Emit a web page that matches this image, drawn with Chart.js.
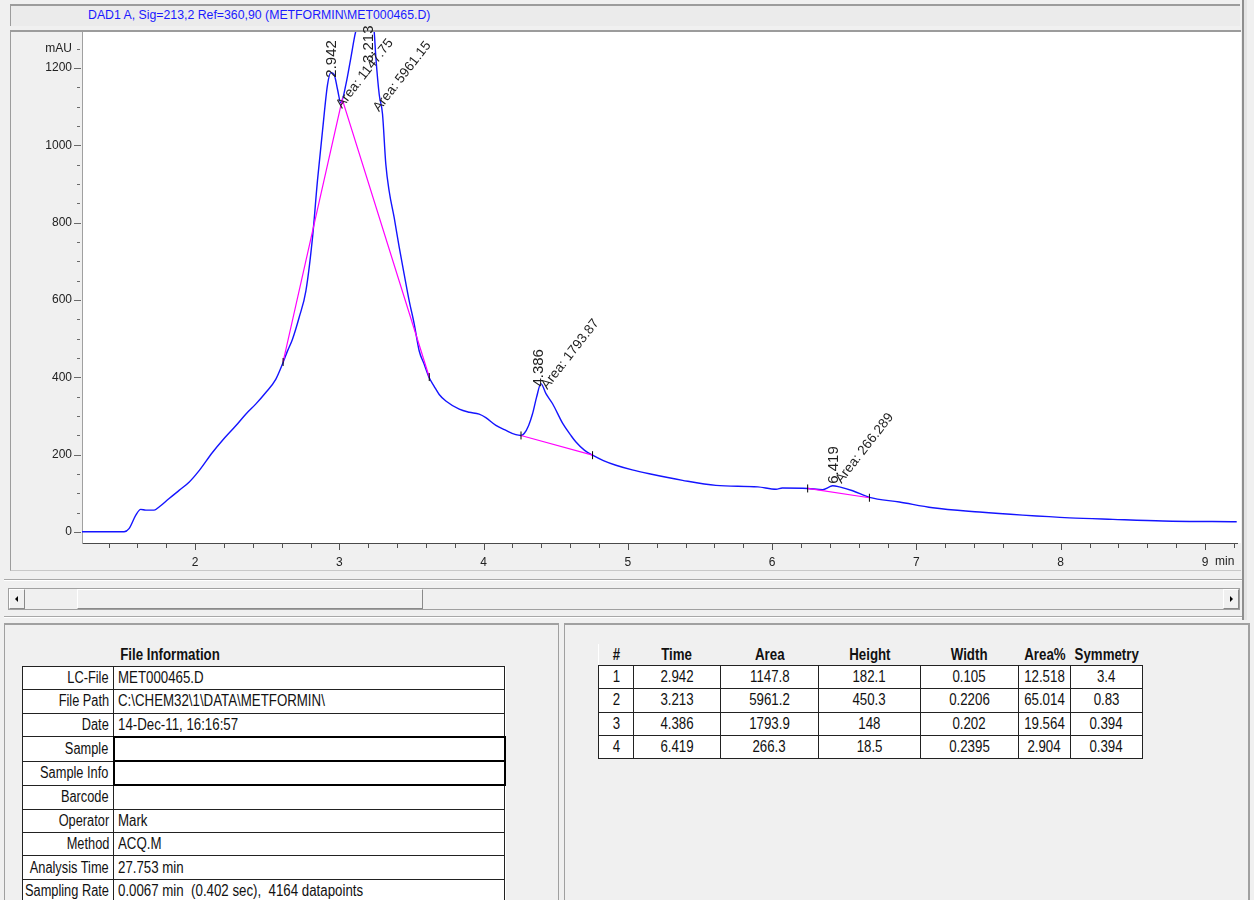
<!DOCTYPE html>
<html>
<head>
<meta charset="utf-8">
<script src="https://cdn.jsdelivr.net/npm/chart.js@4.4.0/dist/chart.umd.min.js"></script>
<style>
html,body{margin:0;padding:0;}
body{width:1254px;height:900px;background:#f0f0f0;position:relative;overflow:hidden;font-family:'Liberation Sans',Arial,sans-serif;}
.abs{position:absolute;box-sizing:border-box;}
#hdr{left:10px;top:4px;width:1230px;height:22px;background:#ebebeb;border-top:2px solid #9c9c9c;border-left:1px solid #9c9c9c;}
#hdrText{left:88px;top:8px;font-size:12.3px;color:#1a1aff;line-height:15px;white-space:nowrap;}
#panel{left:10px;top:30px;width:1231px;height:541px;border-top:2px solid #9c9c9c;border-left:1px solid #9c9c9c;border-bottom:1px solid #c8c8c8;}
#vframe{left:1242px;top:0;width:2px;height:620px;background:#8e8e8e;}
#vframe2{left:1244px;top:0;width:3px;height:620px;background:#e4e4e4;}
.hline{left:4px;width:1238px;height:2px;background:#a8a8a8;border-bottom:1px solid #fff;}
#sb{left:8px;top:588px;width:1232px;height:22px;border:1px solid #a0a0a0;background:#f0f0f0;}
.btn{top:589px;width:16px;height:20px;background:#f0f0f0;border-top:1px solid #fff;border-left:1px solid #fff;border-right:1px solid #8a8a8a;border-bottom:1px solid #8a8a8a;}
#thumb{left:77px;top:589px;width:346px;height:20px;background:#f0f0f0;border-top:1px solid #fff;border-left:1px solid #fff;border-right:1px solid #8a8a8a;border-bottom:1px solid #8a8a8a;}
.arrowL{width:0;height:0;border-top:3px solid transparent;border-bottom:3px solid transparent;border-right:3px solid #000;}
.arrowR{width:0;height:0;border-top:3px solid transparent;border-bottom:3px solid transparent;border-left:3px solid #000;}
#bpl{left:4px;top:623px;width:555px;height:280px;border-top:2px solid #a0a0a0;border-left:1px solid #a0a0a0;border-right:1px solid #a0a0a0;}
#bpr{left:564px;top:623px;width:686px;height:280px;border-top:2px solid #a0a0a0;border-left:1px solid #a0a0a0;border-right:2px solid #a0a0a0;}
.tbl{position:absolute;border-collapse:collapse;font-size:16px;color:#111;table-layout:fixed;background:#fff;}
.tbl td{border:1px solid #222;height:22.3px;padding:0;line-height:16px;white-space:nowrap;overflow:visible;}
.fx{display:flex;align-items:center;white-space:nowrap;}
.sq{display:inline-block;transform:scaleX(0.83);flex:none;}
#fi td.lab{padding-right:4px;}
#fi td.lab .fx{justify-content:flex-end;}
#fi td.lab .sq{transform-origin:right center;transform:scaleX(0.8);}
#fi td.val{padding-left:4px;}
#fi td.val .fx{justify-content:flex-start;}
#fi td.val .sq{transform-origin:left center;}
#fi td.thick{border:2px solid #000;}
#pt td .fx{justify-content:center;}
#pt td .sq{transform-origin:center center;}
#pt tr.head td{border:none;font-weight:bold;background:#f0f0f0;height:21px;}
#fiTitle{left:60px;top:646px;width:220px;text-align:center;font-weight:bold;font-size:16px;color:#111;}
#fiTitle .sq{transform-origin:center center;}
</style>
</head>
<body>
<div id="hdr" class="abs"></div>
<div id="hdrText" class="abs">DAD1 A, Sig=213,2 Ref=360,90 (METFORMIN\MET000465.D)</div>
<div id="panel" class="abs"></div>
<canvas id="c" width="1254" height="600" style="position:absolute;left:0;top:0;"></canvas>
<div id="vframe" class="abs"></div>
<div id="vframe2" class="abs"></div>
<div class="abs hline" style="top:579px;"></div>
<div id="sb" class="abs"></div>
<div class="abs btn" style="left:9px;"><div class="abs arrowL" style="left:5px;top:6px;"></div></div>
<div id="thumb" class="abs"></div>
<div class="abs btn" style="left:1223px;"><div class="abs arrowR" style="left:6px;top:6px;"></div></div>
<div class="abs hline" style="top:616px;"></div>
<div id="bpl" class="abs"></div>
<div id="bpr" class="abs"></div>
<div id="fiTitle" class="abs"><span class="sq">File Information</span></div>
<table id="fi" class="tbl" style="left:22px;top:666px;width:482px;"></table>
<table id="pt" class="tbl" style="left:598px;top:644px;width:544px;"></table>

<script>
// ---------- Chromatogram data ----------
const timeMin = [1.216,1.508,1.542,1.589,1.623,1.658,1.716,1.750,1.820,1.889,1.958,2.028,2.120,2.189,2.282,2.351,2.420,2.490,2.559,2.605,2.640,2.675,2.721,2.768,2.814,2.848,2.883,2.918,2.941,2.964,2.987,3.010,3.045,3.080,3.114,3.160,3.213,3.241,3.253,3.276,3.299,3.322,3.345,3.380,3.415,3.449,3.484,3.519,3.553,3.588,3.623,3.657,3.692,3.738,3.831,3.900,3.969,4.015,4.085,4.155,4.223,4.259,4.281,4.312,4.339,4.367,4.397,4.432,4.478,4.548,4.605,4.640,4.698,4.755,4.830,4.917,5.030,5.148,5.379,5.610,5.900,6.027,6.070,6.246,6.350,6.397,6.419,6.466,6.558,6.674,6.882,7.113,7.437,7.737,8.061,8.362,8.709,9.220];
const absorbance = [1,1,9,44,59,57,57,65,87,108,129,159,206,237,275,305,331,361,395,434,468,499,555,624,762,908,1037,1157,1188,1183,1145,1110,1157,1227,1295,1325,1342,1295,1227,1132,1081,951,882,813,736,667,598,538,469,434,399,377,356,339,318,310,305,296,276,263,252,250,255,276,306,349,384,358,332,281,250,233,212,199,185,173,161,151,134,121,117,111,114,113,110,117,120,117,107,90,78,63,52,44,37,33,29,27];

// integration baselines (null = break between peaks)
const baselineTime  = [2.610, 3.020, 3.623, 3.623, 4.259, 4.755, 4.755, 6.246, 6.674];
const baselineValue = [440,   1119,  401,   null,  250,   199,   null,  113,   89];

// peaks
const peakNum     = [1, 2, 3, 4];
const peakTimes   = [2.942, 3.213, 4.386, 6.419];
const peakAreaLabels = ['Area: 1147.75', 'Area: 5961.15', 'Area: 1793.87', 'Area: 266.289'];
const peakArea    = ['1147.8', '5961.2', '1793.9', '266.3'];
const peakHeight  = ['182.1', '450.3', '148', '18.5'];
const peakWidth   = ['0.105', '0.2206', '0.202', '0.2395'];
const peakAreaPct = ['12.518', '65.014', '19.564', '2.904'];
const peakSymmetry = ['3.4', '0.83', '0.394', '0.394'];
const peakTableHeaders = ['#', 'Time', 'Area', 'Height', 'Width', 'Area%', 'Symmetry'];

// axis ticks
const xMajorTicks = [2, 3, 4, 5, 6, 7, 8, 9];
const yTickValues = [0,50,100,150,200,250,300,350,400,450,500,550,600,650,700,750,800,850,900,950,1000,1050,1100,1150,1200,1250];
const yMajorTicks = [0, 200, 400, 600, 800, 1000, 1200];

// file information
const fileInfoLabels = ['LC-File','File Path','Date','Sample','Sample Info','Barcode','Operator','Method','Analysis Time','Sampling Rate'];
const fileInfoValues = ['MET000465.D','C:\\CHEM32\\1\\DATA\\METFORMIN\\','14-Dec-11, 16:16:57','','','','Mark','ACQ.M','27.753 min','0.0067 min&nbsp; (0.402 sec),&nbsp; 4164 datapoints'];

// ---------- tables ----------
function sq(t) { return '<div class="fx"><span class="sq">' + (t === '' ? '&nbsp;' : t) + '</span></div>'; }
(function(){
  const fi = document.getElementById('fi');
  let h = '<colgroup><col style="width:91px"><col style="width:391px"></colgroup>';
  fileInfoLabels.forEach((l, i) => {
    const thick = (l === 'Sample' || l === 'Sample Info') ? ' thick' : '';
    h += '<tr><td class="lab">' + sq(l) + '</td><td class="val' + thick + '">' + sq(fileInfoValues[i]) + '</td></tr>';
  });
  fi.innerHTML = h;
  const pt = document.getElementById('pt');
  const widths = [35, 87, 98, 102, 98, 52, 72];
  let p = '<colgroup>' + widths.map(w => '<col style="width:' + w + 'px">').join('') + '</colgroup>';
  p += '<tr class="head">' + peakTableHeaders.map(t => '<td>' + sq(t) + '</td>').join('') + '</tr>';
  peakNum.forEach((n, i) => {
    const cells = [n, peakTimes[i].toFixed(3), peakArea[i], peakHeight[i], peakWidth[i], peakAreaPct[i], peakSymmetry[i]];
    p += '<tr>' + cells.map(c => '<td>' + sq(String(c)) + '</td>').join('') + '</tr>';
  });
  pt.innerHTML = p;
})();

// ---------- chart ----------
const traceData = timeMin.map((t, i) => ({x: t, y: absorbance[i]}));
const baseData = baselineTime.map((t, i) => ({x: t, y: baselineValue[i]}));
const markerData = [];
baselineValue.forEach((v, i) => {
  if (v === null) return;
  const prevNull = i === 0 || baselineValue[i-1] === null;
  const nextNull = i === baselineValue.length - 1 || baselineValue[i+1] === null;
  if (prevNull || nextNull) markerData.push({x: baselineTime[i], y: v});
});

function interp(t) {
  for (let i = 1; i < timeMin.length; i++) {
    if (t <= timeMin[i]) {
      const f = (t - timeMin[i-1]) / (timeMin[i] - timeMin[i-1]);
      return absorbance[i-1] + f * (absorbance[i] - absorbance[i-1]);
    }
  }
  return absorbance[absorbance.length - 1];
}

const xTickList = [];
for (let i = 7; i <= 46; i++) xTickList.push(Math.round(i * 2) / 10);

const chromPlugin = {
  id: 'chrom',
  beforeDraw(chart) {
    const {ctx, chartArea: a} = chart;
    ctx.save();
    ctx.fillStyle = '#ffffff';
    ctx.fillRect(a.left, a.top, a.right - a.left + 4, a.bottom - a.top);
    ctx.restore();
  },
  afterDraw(chart, args, opts) {
    const {ctx, chartArea: a, scales: {x, y}} = chart;
    ctx.save();
    ctx.lineWidth = 1;
    ctx.strokeStyle = '#6a6a6a';
    y.ticks.forEach(t => {
      const py = Math.round(y.getPixelForValue(t.value)) + 0.5;
      const major = yMajorTicks.includes(t.value);
      ctx.beginPath();
      ctx.moveTo(major ? a.left - 8 : a.left - 5, py);
      ctx.lineTo(major ? a.left - 1 : a.left - 2, py);
      ctx.stroke();
    });
    ctx.strokeStyle = '#505050';
    x.ticks.forEach(t => {
      const px = Math.round(x.getPixelForValue(t.value)) + 0.5;
      const major = xMajorTicks.includes(t.value);
      ctx.beginPath();
      ctx.moveTo(px, a.bottom);
      ctx.lineTo(px, a.bottom + (major ? 7 : 5));
      ctx.stroke();
    });
    ctx.fillStyle = '#222';
    ctx.font = '12px "Liberation Sans", Arial, sans-serif';
    ctx.textAlign = 'left';
    ctx.textBaseline = 'middle';
    ctx.fillText('min', x.getPixelForValue(9) + 10, a.bottom + 19);

    // peak labels
    ctx.fillStyle = '#1e1e1e';
    peakTimes.forEach((pt, i) => {
      const px = x.getPixelForValue(pt);
      const py = Math.max(a.top, y.getPixelForValue(interp(pt)));
      const o = opts.offsets[i];
      ctx.save();
      ctx.translate(px + o.tx, py + o.ty);
      ctx.rotate(-Math.PI / 2);
      ctx.font = '15px "Liberation Sans", Arial, sans-serif';
      ctx.textAlign = 'left';
      ctx.textBaseline = 'middle';
      ctx.fillText(pt.toFixed(3), 0, 0);
      ctx.restore();
      ctx.save();
      ctx.translate(px + o.ax, py + o.ay);
      ctx.rotate(-52 * Math.PI / 180);
      ctx.font = '13.5px "Liberation Sans", Arial, sans-serif';
      ctx.textAlign = 'left';
      ctx.textBaseline = 'middle';
      ctx.fillText(peakAreaLabels[i], 0, 0);
      ctx.restore();
    });
    ctx.restore();
  }
};

new Chart(document.getElementById('c'), {
  type: 'line',
  data: {
    datasets: [
      {
        type: 'scatter', data: markerData, showLine: false,
        pointStyle: 'line', rotation: 90, radius: 4, borderColor: '#000', borderWidth: 1, backgroundColor: '#000'
      },
      {
        data: baseData, borderColor: '#ff00ff', borderWidth: 1.2, pointRadius: 0, spanGaps: false, tension: 0
      },
      {
        data: traceData, borderColor: '#1414ff', borderWidth: 1.4, pointRadius: 0, cubicInterpolationMode: 'monotone'
      }
    ]
  },
  options: {
    responsive: false,
    animation: false,
    devicePixelRatio: 1,
    layout: {padding: {left: 0, top: 32, right: 17, bottom: 0}},
    plugins: {
      legend: {display: false},
      tooltip: {enabled: false},
      chrom: {
        offsets: [
          {tx: 1, ty: 5, ax: 8, ay: 34},
          {tx: -1, ty: 31, ax: 6, ay: 78},
          {tx: 0, ty: -2, ax: 5, ay: -1},
          {tx: 1, ty: -2, ax: 6, ay: -4}
        ]
      }
    },
    scales: {
      x: {
        type: 'linear', min: 1.216, max: 9.222,
        afterFit(s) { s.height = 57; },
        afterBuildTicks(s) { s.ticks = xTickList.map(v => ({value: v})); },
        grid: {display: false, drawTicks: false},
        border: {display: true, color: '#4a4a4a', width: 1},
        ticks: {
          autoSkip: false, maxRotation: 0, padding: 12, color: '#222',
          font: {family: '"Liberation Sans", Arial, sans-serif', size: 12},
          callback: v => xMajorTicks.includes(v) ? String(v) : ''
        }
      },
      y: {
        min: -28, max: 1293,
        afterFit(s) { s.width = 82; },
        afterBuildTicks(s) { s.ticks = yTickValues.map(v => ({value: v})); },
        grid: {display: false, drawTicks: false},
        border: {display: true, color: '#a0a0a0', width: 1},
        ticks: {
          autoSkip: false, padding: 10, color: '#222',
          font: {family: '"Liberation Sans", Arial, sans-serif', size: 12},
          callback: v => yMajorTicks.includes(v) ? String(v) : (v === 1250 ? 'mAU' : '')
        }
      }
    }
  },
  plugins: [chromPlugin]
});
</script>
</body>
</html>
